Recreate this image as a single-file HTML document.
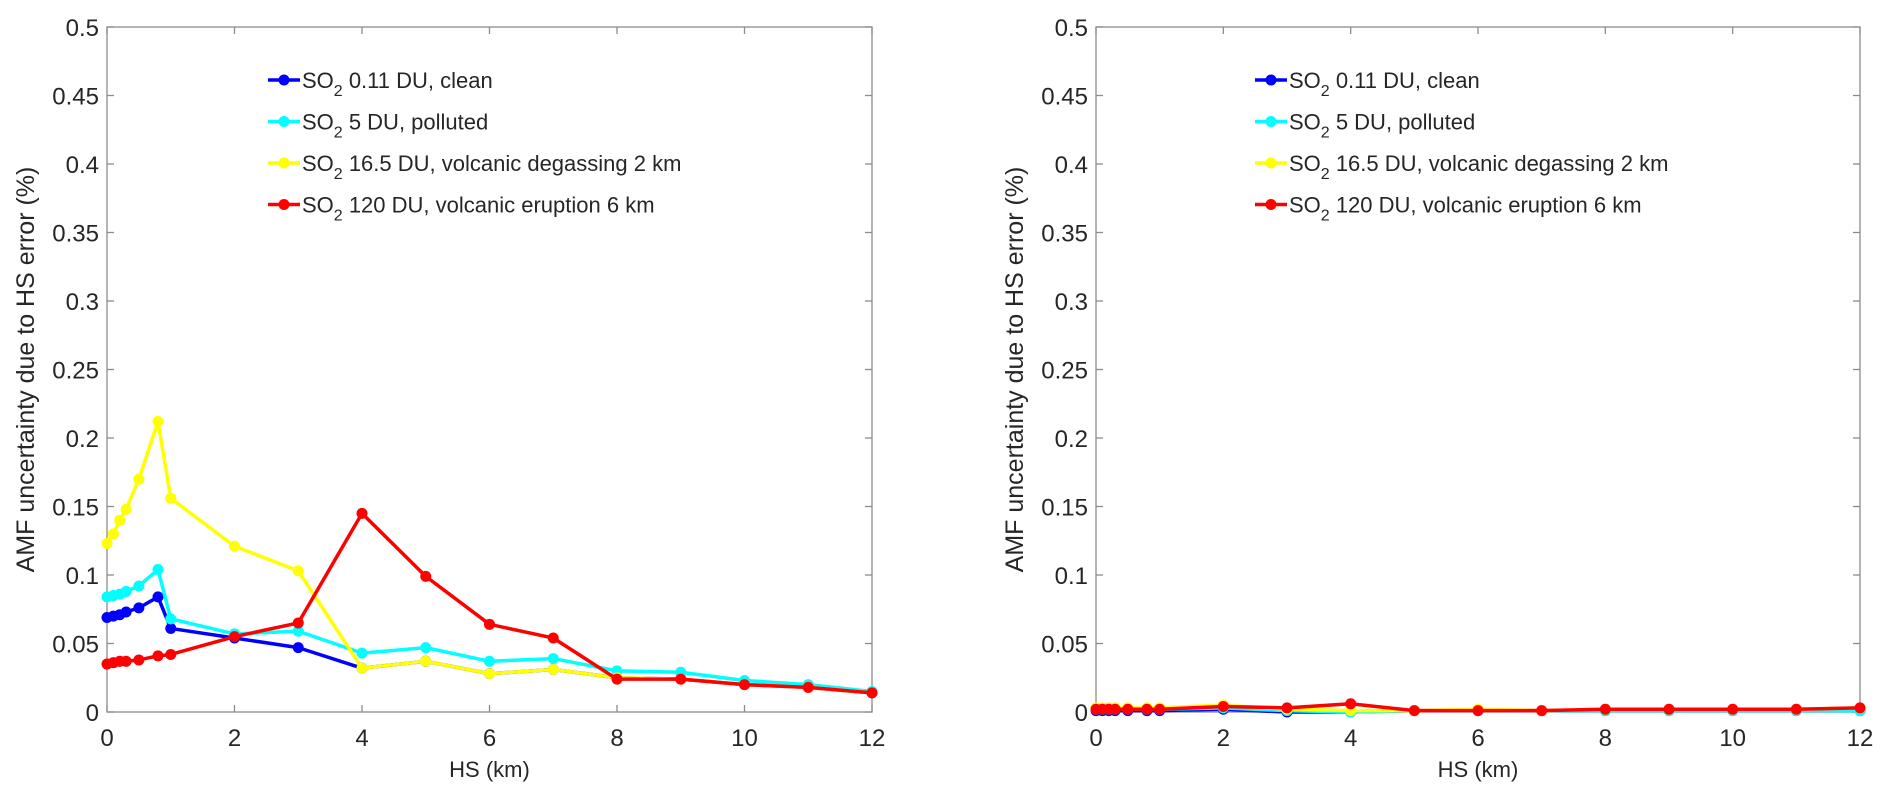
<!DOCTYPE html>
<html><head><meta charset="utf-8"><style>
body{margin:0;background:#fff;}
svg text{font-family:"Liberation Sans",Arial,sans-serif;fill:#262626;}
</style></head><body>
<svg id="chart" width="1892" height="805" xmlns="http://www.w3.org/2000/svg"></svg>
<script>
const hs = [0,0.1,0.2,0.3,0.5,0.8,1,2,3,4,5,6,7,8,9,10,11,12];
const seriesNames = ["0.11 DU, clean","5 DU, polluted","16.5 DU, volcanic degassing 2 km","120 DU, volcanic eruption 6 km"];
const seriesColors = ["#0000ff","#00ffff","#ffff00","#ff0000"];
const leftBlue   = [0.069,0.070,0.071,0.073,0.076,0.084,0.061,0.054,0.047,0.032,0.037,0.028,0.031,0.025,0.024,0.020,0.018,0.014];
const leftCyan   = [0.084,0.085,0.086,0.088,0.092,0.104,0.068,0.057,0.059,0.043,0.047,0.037,0.039,0.030,0.029,0.023,0.020,0.015];
const leftYellow = [0.123,0.130,0.140,0.148,0.170,0.212,0.156,0.121,0.103,0.032,0.037,0.028,0.031,0.025,0.024,0.020,0.018,0.014];
const leftRed    = [0.035,0.036,0.037,0.037,0.038,0.041,0.042,0.055,0.065,0.145,0.099,0.064,0.054,0.024,0.024,0.020,0.018,0.014];
const rightBlue   = [0.001,0.001,0.001,0.001,0.001,0.001,0.001,0.002,0.000,0.000,0.001,0.001,0.001,0.001,0.001,0.001,0.001,0.001];
const rightCyan   = [0.002,0.002,0.002,0.002,0.002,0.002,0.002,0.003,0.001,0.000,0.001,0.001,0.001,0.001,0.001,0.001,0.001,0.001];
const rightYellow = [0.003,0.003,0.003,0.003,0.003,0.003,0.003,0.005,0.002,0.001,0.001,0.002,0.001,0.002,0.002,0.002,0.002,0.003];
const rightRed    = [0.002,0.002,0.002,0.002,0.002,0.002,0.002,0.004,0.003,0.006,0.001,0.001,0.001,0.002,0.002,0.002,0.002,0.003];
const xTicks = [0,2,4,6,8,10,12];
const yTicks = [0,0.05,0.1,0.15,0.2,0.25,0.3,0.35,0.4,0.45,0.5];
const yTickLabels = ["0","0.05","0.1","0.15","0.2","0.25","0.3","0.35","0.4","0.45","0.5"];

const NS="http://www.w3.org/2000/svg";
const svg=document.getElementById('chart');
function mk(tag,attrs,parent){const e=document.createElementNS(NS,tag);for(const k in attrs)e.setAttribute(k,attrs[k]);(parent||svg).appendChild(e);return e;}

function panel(name,L,R,T,B,data,legX){
  const g=mk('g',{});
  
  
  const xs=v=>L+(v/12)*(R-L);
  const ys=v=>B-(v/0.5)*(B-T);
  const box=mk('rect',{x:L,y:T,width:R-L,height:B-T,fill:'none',stroke:'#8c8c8c','stroke-width':1.3},g);
  
  
  xTicks.forEach(t=>{
    const x=xs(t);
    mk('line',{x1:x,y1:B,x2:x,y2:B-7,stroke:'#8c8c8c','stroke-width':1.3},g);
    mk('line',{x1:x,y1:T,x2:x,y2:T+7,stroke:'#8c8c8c','stroke-width':1.3},g);
    const tx=mk('text',{x:x,y:B+34,'font-size':24,'text-anchor':'middle'},g);
    tx.textContent=t;
    
    
  });
  yTicks.forEach((t,i)=>{
    const y=ys(t);
    mk('line',{x1:L,y1:y,x2:L+7,y2:y,stroke:'#8c8c8c','stroke-width':1.3},g);
    mk('line',{x1:R,y1:y,x2:R-7,y2:y,stroke:'#8c8c8c','stroke-width':1.3},g);
    const tx=mk('text',{x:L-8,y:y+9,'font-size':24,'text-anchor':'end'},g);
    tx.textContent=yTickLabels[i];
    
    
  });
  const xl=mk('text',{x:(L+R)/2,y:B+65,'font-size':22,'text-anchor':'middle'},g);
  xl.textContent='HS (km)';
  
  
  const yl=mk('text',{x:0,y:0,'font-size':25,'text-anchor':'middle',transform:`translate(${L-73},${(T+B)/2}) rotate(-90)`},g);
  yl.textContent='AMF uncertainty due to HS error (%)';
  
  
  data.forEach((vals,si)=>{
    const sg=mk('g',{},g);
    
    
    const pts=vals.map((v,i)=>xs(hs[i])+','+ys(v)).join(' ');
    mk('polyline',{points:pts,fill:'none',stroke:seriesColors[si],'stroke-width':3.5,'stroke-linejoin':'round'},sg);
    vals.forEach((v,i)=>{
      const c=mk('circle',{cx:xs(hs[i]),cy:ys(v),r:5.5,fill:seriesColors[si]},sg);
      
      
    });
  });
  seriesNames.forEach((n,si)=>{
    const y=80+si*41.5;
    const lg=mk('g',{},g);
    
    
    mk('line',{x1:legX,y1:y,x2:legX+32,y2:y,stroke:seriesColors[si],'stroke-width':3.5},lg);
    mk('circle',{cx:legX+16,cy:y,r:5.5,fill:seriesColors[si]},lg);
    const t=mk('text',{x:legX+34,y:y+8,'font-size':22},lg);
    t.innerHTML='SO<tspan font-size="16" dy="8">2</tspan><tspan dy="-8"> '+n+'</tspan>';
  });
}
panel('left-panel',107,872,27,712,[leftBlue,leftCyan,leftYellow,leftRed],268);
panel('right-panel',1096,1860,27,712,[rightBlue,rightCyan,rightYellow,rightRed],1255);
</script>
</body></html>
